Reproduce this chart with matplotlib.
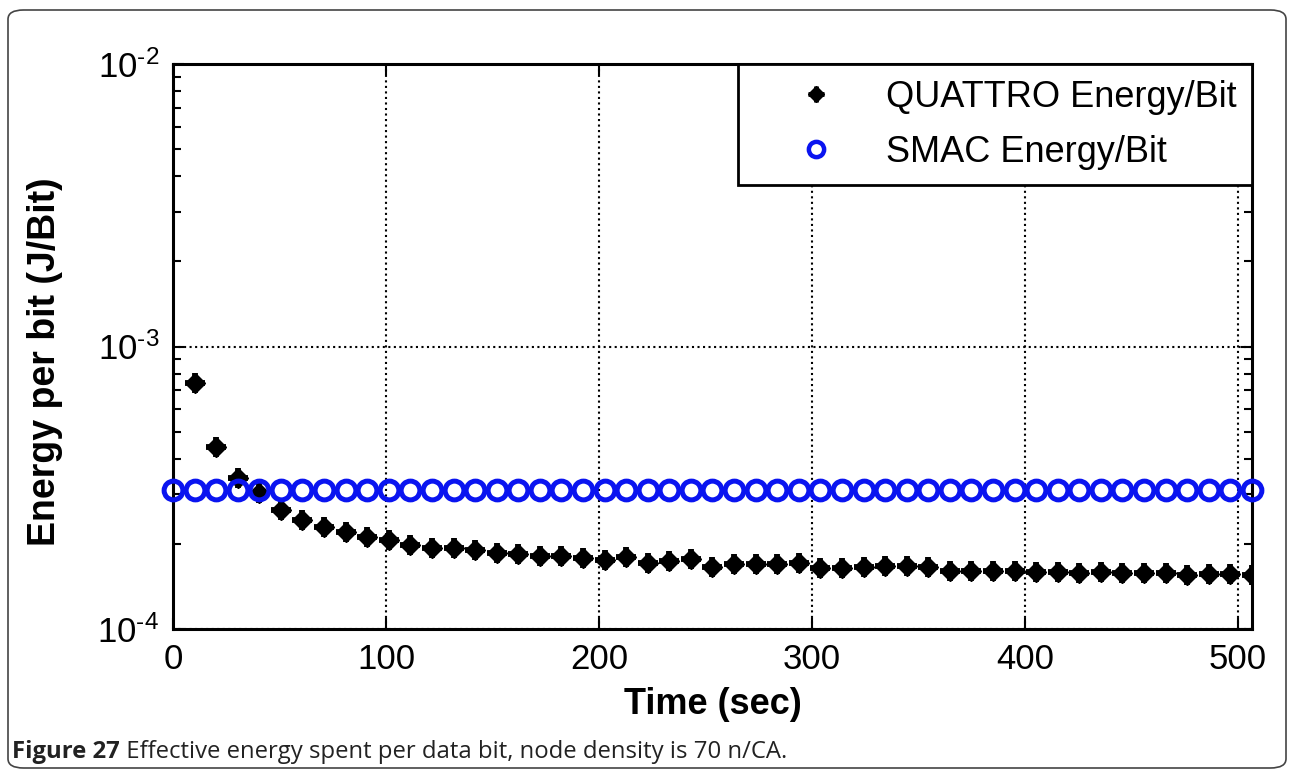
import math

import matplotlib
matplotlib.use("Agg")
import matplotlib.pyplot as plt
from matplotlib.lines import Line2D
from matplotlib.legend_handler import HandlerTuple
from matplotlib.patches import FancyBboxPatch
from matplotlib.ticker import LogLocator, FuncFormatter, NullFormatter

# ---------------------------------------------------------------- data
time_smac = [0, 10.1, 20.3, 30.4, 40.5, 50.7, 60.8, 70.9, 81.0, 91.2,
             101.3, 111.4, 121.6, 131.7, 141.8, 152.0, 162.1, 172.2, 182.3, 192.5,
             202.6, 212.7, 222.9, 233.0, 243.1, 253.3, 263.4, 273.5, 283.6, 293.8,
             303.9, 314.0, 324.2, 334.3, 344.4, 354.6, 364.7, 374.8, 384.9, 395.1,
             405.2, 415.3, 425.5, 435.6, 445.7, 456.0, 466.0, 476.1, 486.2, 496.4,
             506.5]
smac_energy = [3.1e-4] * 51

time_quattro = time_smac[1:]
quattro_energy = [7.43e-4, 4.41e-4, 3.42e-4, 3.03e-4, 2.64e-4, 2.43e-4, 2.30e-4, 2.20e-4,
                  2.12e-4, 2.07e-4, 1.98e-4, 1.94e-4, 1.93e-4, 1.90e-4, 1.86e-4, 1.85e-4,
                  1.82e-4, 1.82e-4, 1.79e-4, 1.75e-4, 1.80e-4, 1.71e-4, 1.745e-4, 1.77e-4,
                  1.66e-4, 1.70e-4, 1.70e-4, 1.70e-4, 1.71e-4, 1.64e-4, 1.645e-4, 1.66e-4,
                  1.67e-4, 1.67e-4, 1.66e-4, 1.60e-4, 1.60e-4, 1.605e-4, 1.60e-4, 1.59e-4,
                  1.59e-4, 1.58e-4, 1.59e-4, 1.58e-4, 1.58e-4, 1.58e-4, 1.55e-4, 1.56e-4,
                  1.56e-4, 1.55e-4]

x_ticks = [0, 100, 200, 300, 400, 500]
labels = ["QUATTRO Energy/Bit", "SMAC Energy/Bit"]
caption_bold = "Figure 27"
caption_rest = " Effective energy spent per data bit, node density is 70 n/CA."

# ---------------------------------------------------------------- style
plt.rcParams["font.family"] = ["Liberation Sans", "DejaVu Sans"]
plt.rcParams["mathtext.fontset"] = "custom"
plt.rcParams["mathtext.rm"] = "Liberation Sans"
plt.rcParams["mathtext.it"] = "Liberation Sans"
BLUE = "#0a14f0"

fig = plt.figure(figsize=(12.9, 7.7), dpi=100)
ax = fig.add_axes([173 / 1290, 1 - 629 / 770, 1079 / 1290, 565 / 770])

ax.plot(time_quattro, quattro_energy, ls="none", marker="D", ms=10.5,
        color="black", zorder=3)
ax.plot(time_quattro, quattro_energy, ls="none", marker="+", ms=15, mew=4.2,
        color="black", zorder=3)
ax.plot(time_smac, smac_energy, ls="none", marker="o", ms=13.5, mew=3.6,
        mfc="none", mec=BLUE, zorder=4, clip_on=False)

ax.set_yscale("log")
ax.set_ylim(1e-4, 1e-2)
ax.set_xlim(0, 506.6)
ax.set_xticks(x_ticks)
ax.yaxis.set_major_locator(LogLocator(base=10, numticks=5))
ax.yaxis.set_minor_locator(LogLocator(base=10, subs=range(2, 10), numticks=20))
ax.yaxis.set_minor_formatter(NullFormatter())
# hyphen instead of the mathtext minus, as in the original
ax.yaxis.set_major_formatter(FuncFormatter(
    lambda v, _: "$\\mathregular{10^{\u2010%d}}$" % abs(round(math.log10(v)))))

ax.tick_params(which="both", direction="in", top=True, right=True,
               labelsize=25, pad=10, width=1.5)
ax.tick_params(which="major", length=8)
ax.tick_params(which="minor", length=6)
for s in ax.spines.values():
    s.set_linewidth(2.2)
ax.grid(True, which="major", color="black", ls=":", lw=1.5)

ax.set_xlabel("Time (sec)", fontsize=26, fontweight="bold", labelpad=8)
ax.set_ylabel("Energy per bit (J/Bit)", fontsize=27, fontweight="bold")
ax.yaxis.set_label_coords(-0.102, 0.4726)

h_q = (Line2D([], [], ls="none", marker="D", ms=8, color="black"),
       Line2D([], [], ls="none", marker="+", ms=11.5, mew=3.5, color="black"))
h_s = Line2D([], [], ls="none", marker="o", ms=11, mew=3.2, mfc="none", mec=BLUE)
leg = ax.legend([h_q, h_s], labels, loc="upper right", bbox_to_anchor=(1, 1),
                borderaxespad=0, fontsize=26, fancybox=False, framealpha=1,
                edgecolor="black", handlelength=3.45, handletextpad=0.22,
                borderpad=0.43, labelspacing=0.56,
                handler_map={tuple: HandlerTuple(ndivide=1)})
leg.get_frame().set_linewidth(2)
leg.set_zorder(10)

# outer rounded frame and caption
frame = FancyBboxPatch((8 / 1290, 2 / 770), 1278 / 1290, 758 / 770,
                       boxstyle="round,pad=0,rounding_size=0.012",
                       transform=fig.transFigure, fill=False,
                       ec="#444444", lw=1.2)
fig.patches.append(frame)
t1 = fig.text(12 / 1290, 1 - 758 / 770, caption_bold, fontsize=17.2,
              fontweight="bold", family="Open Sans", color="#222222")
ax.annotate(caption_rest, xy=(1, 0), xycoords=t1, va="bottom", ha="left",
            fontsize=17.2, family="Open Sans", color="#222222",
            annotation_clip=False)

fig.savefig("out.png", dpi=100)
